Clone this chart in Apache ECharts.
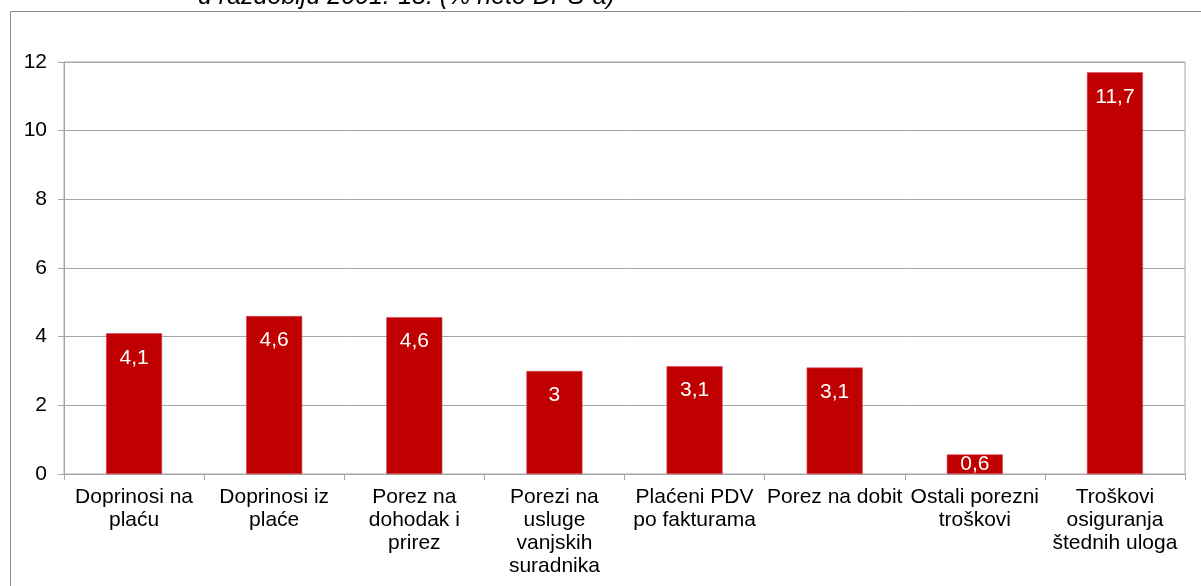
<!DOCTYPE html>
<html><head><meta charset="utf-8">
<script src="https://cdn.jsdelivr.net/npm/echarts@6/dist/echarts.min.js"></script>
<style>html,body{margin:0;padding:0;background:#fff}#c{width:1201px;height:586px}</style>
</head><body><div id="c"></div>
<script>
const categories = ["Doprinosi na\nplaću","Doprinosi iz\nplaće","Porez na\ndohodak i\nprirez","Porezi na\nusluge\nvanjskih\nsuradnika","Plaćeni PDV\npo fakturama","Porez na dobit","Ostali porezni\ntroškovi","Troškovi\nosiguranja\nštednih uloga"];
const values = [4.1, 4.6, 4.57, 3.0, 3.14, 3.1, 0.57, 11.7];
const yTicks = [0, 2, 4, 6, 8, 10, 12];
const titleText = "u razdoblju 2001.-18. (% neto DPS-a)";

const chart = echarts.init(document.getElementById('c'), null, {renderer:'canvas'});
chart.setOption({
  animation:false,
  textStyle:{fontFamily:'Liberation Sans, Arial, sans-serif'},
  graphic:[
    {type:'rect', shape:{x:10.5,y:11.5,width:1300,height:700}, style:{fill:'none',stroke:'#8c8c8c',lineWidth:1}, silent:true},
    {type:'text', left:198, top:-15, style:{text:titleText, font:'italic 25px "Liberation Sans", Arial, sans-serif', fill:'#000'}}
  ],
  grid:{left:64, top:62, right:16, bottom:112, show:true, borderColor:'#a6a6a6', borderWidth:1},
  xAxis:{type:'category', data:categories,
    axisLine:{lineStyle:{color:'#a6a6a6'}},
    axisTick:{show:true, length:6, interval:0, lineStyle:{color:'#a6a6a6'}},
    axisLabel:{interval:0, fontSize:21, color:'#000', lineHeight:23, margin:12}},
  yAxis:{type:'value', min:yTicks[0], max:yTicks[yTicks.length-1], interval:2,
    axisLine:{show:true, lineStyle:{color:'#a6a6a6'}},
    axisTick:{show:true, length:6, lineStyle:{color:'#a6a6a6'}},
    axisLabel:{fontSize:21, color:'#000', margin:17},
    splitLine:{lineStyle:{color:'#a6a6a6'}}},
  series:[{type:'bar',
    data:values.map(v => v < 1 ? {value:v, label:{position:'inside'}} : v),
    barCategoryGap:'60%',
    itemStyle:{color:'#c00000', borderColor:'#d8475a', borderWidth:0.6},
    label:{show:true, position:'insideTop', distance:14, color:'#fff', fontSize:21,
      formatter:p=>String(Number(p.value.toFixed(1))).replace('.',',')}}]
});
</script></body></html>
